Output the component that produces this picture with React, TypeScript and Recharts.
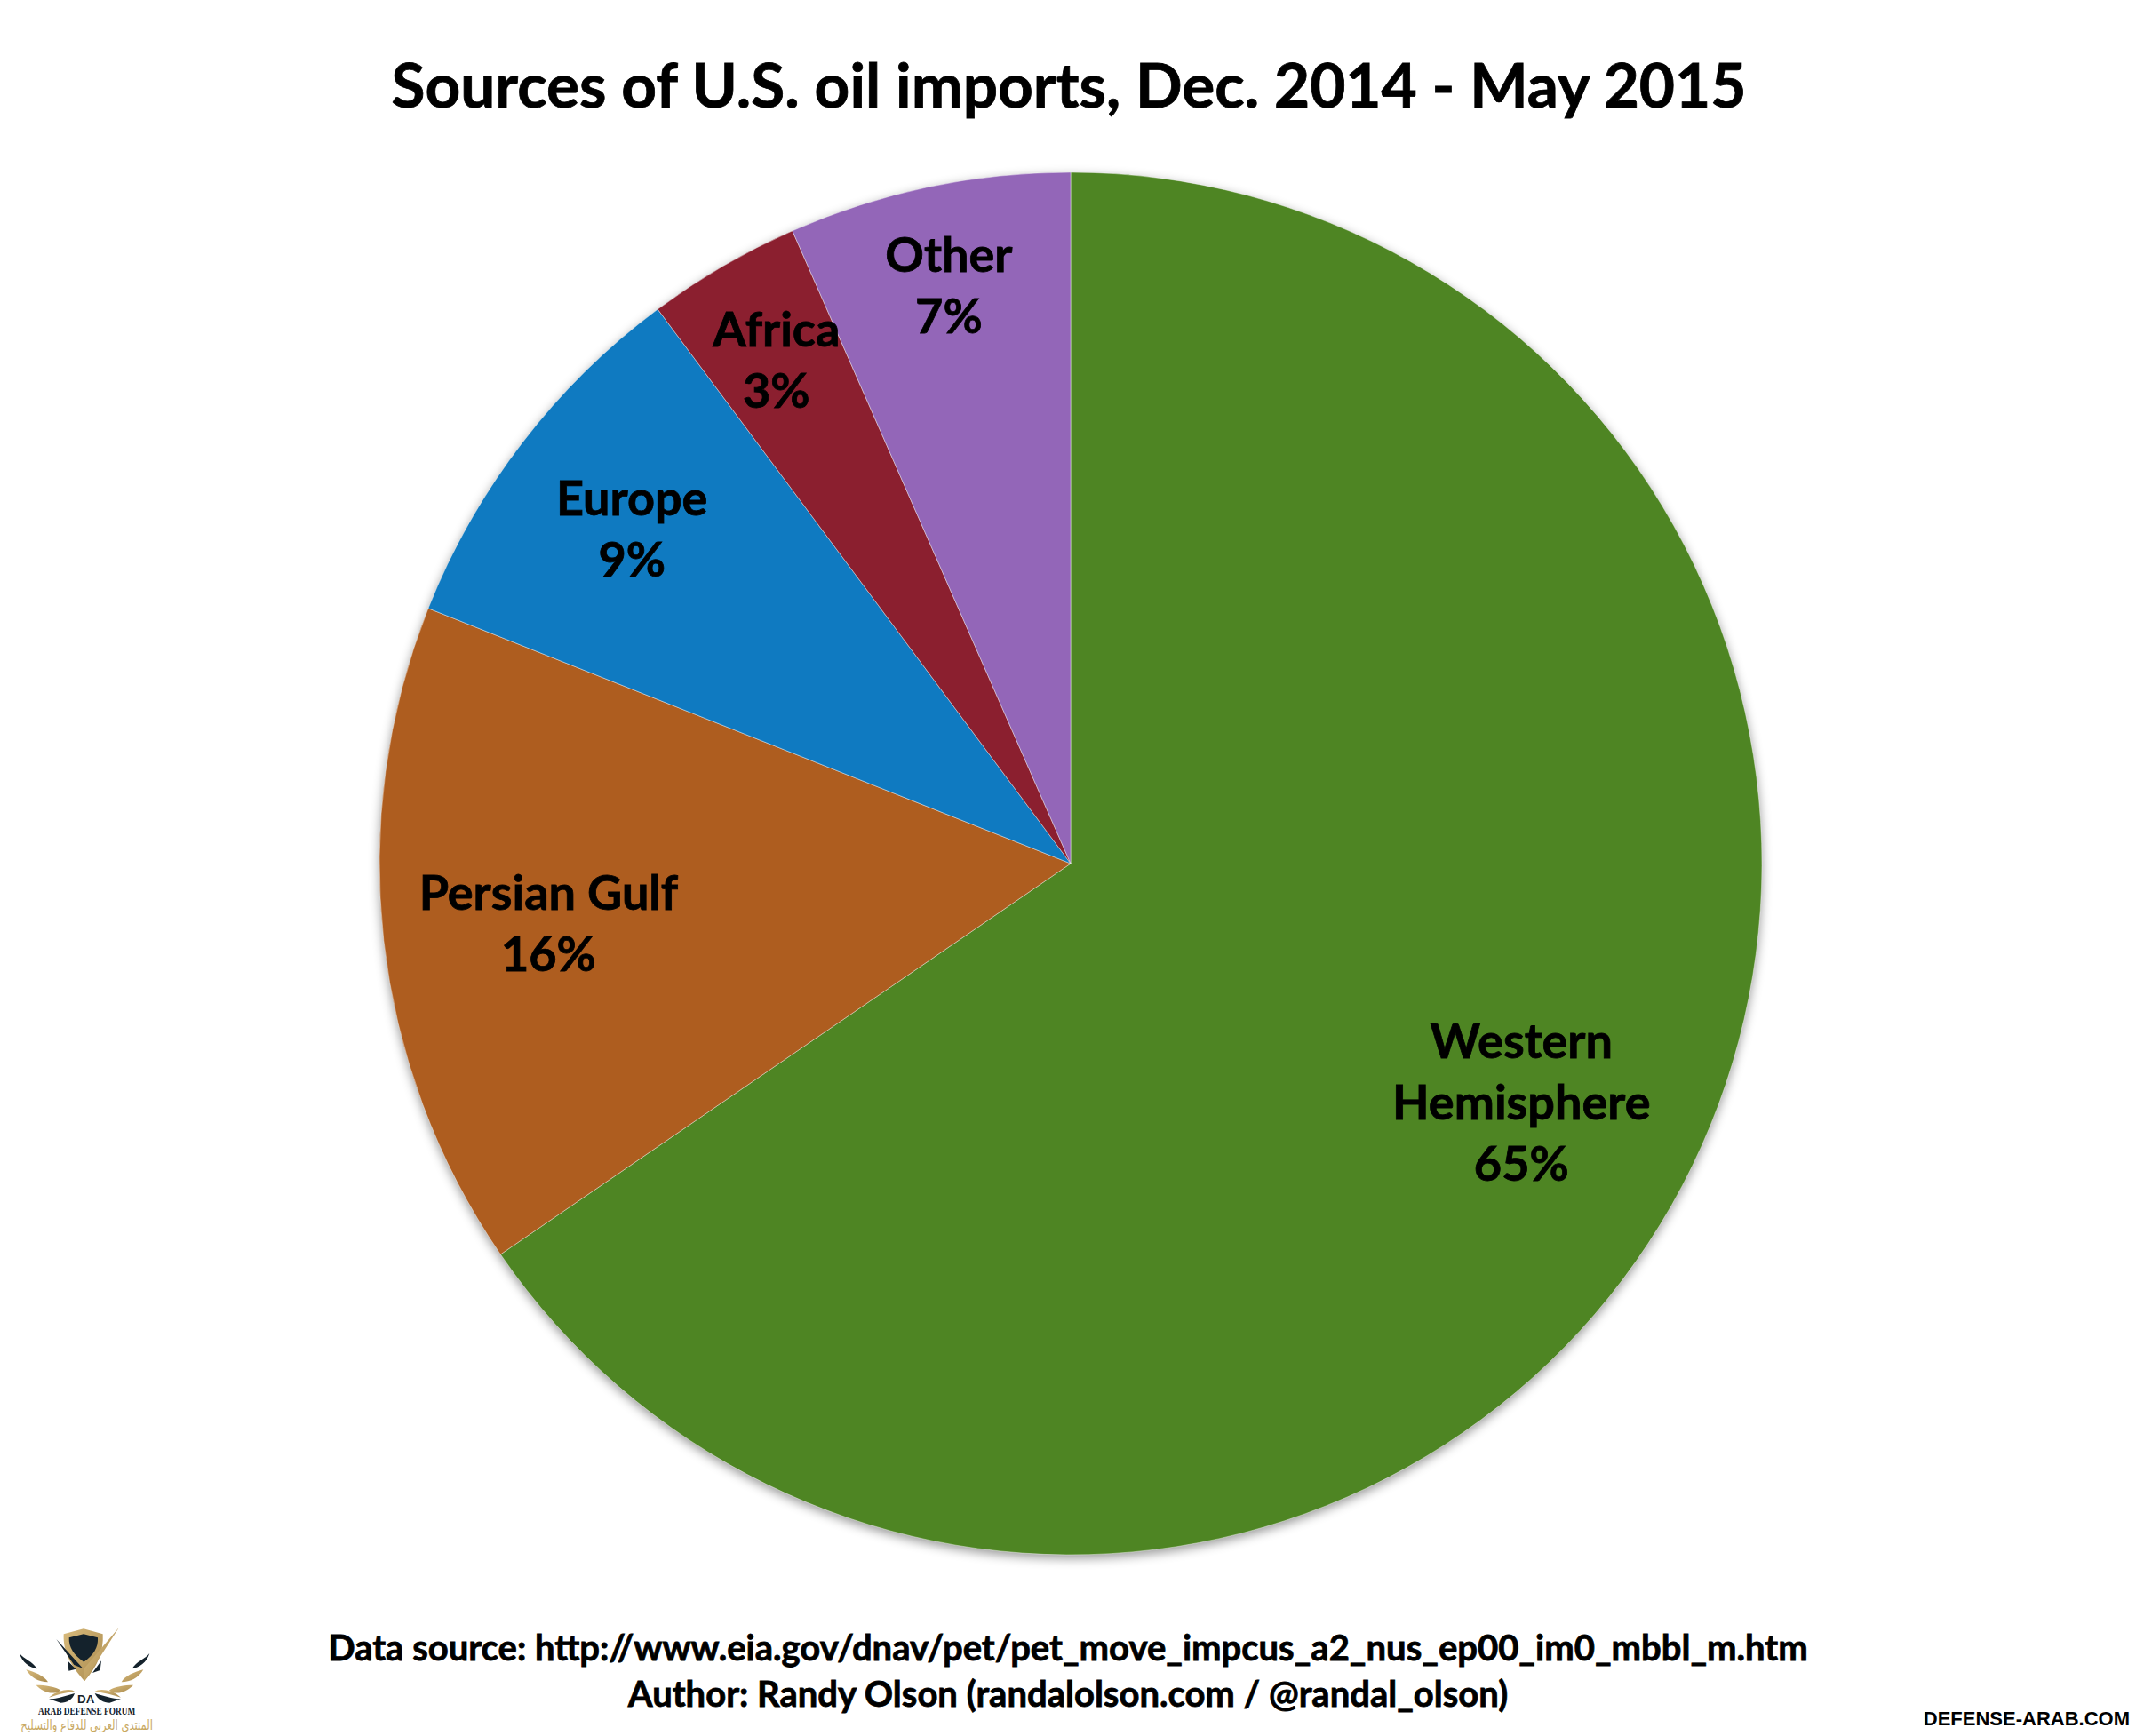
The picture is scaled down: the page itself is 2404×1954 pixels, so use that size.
/**
 * OilImportsPie - Sources of U.S. oil imports, Dec. 2014 - May 2015
 */
import React from 'react';
import { PieChart, Pie, Cell } from 'recharts';

const regions = ['Western Hemisphere', 'Persian Gulf', 'Europe', 'Africa', 'Other'];
const shares = [65.5, 15.6, 8.8, 3.6, 6.6];
const percentLabels = ['65%', '16%', '9%', '3%', '7%'];
const sliceColors = ['#4e8523', '#ae5d1f', '#0f7ac1', '#8b1f2f', '#9366b8'];
// how far along the radius each label sits
const labelRadius = [0.737, 0.76, 0.8, 0.846, 0.857];
const labelLines = [['Western', 'Hemisphere'], ['Persian Gulf'], ['Europe'], ['Africa'], ['Other']];

const tableData = regions.map((name, i) => ({ name, value: shares[i] }));

const FONT = 'Lato, "Open Sans", sans-serif';
const RAD = Math.PI / 180;

function SliceLabel({ cx, cy, midAngle, outerRadius, index }: any) {
  const r = outerRadius * labelRadius[index];
  const x = cx + r * Math.cos(-midAngle * RAD);
  const y = cy + r * Math.sin(-midAngle * RAD);
  const lines = [...labelLines[index], percentLabels[index]];
  const lineHeight = 69;
  const firstY = y - ((lines.length - 1) * lineHeight) / 2 + 21;
  return (
    <text
      x={x}
      textAnchor="middle"
      fontFamily={FONT}
      fontWeight={700}
      fontSize={54}
      fill="#000"
      stroke="#000"
      strokeWidth={0.8}
    >
      {lines.map((line, i) => (
        <tspan key={i} x={x} y={firstY + i * lineHeight}>
          {line}
        </tspan>
      ))}
    </text>
  );
}

function Logo() {
  const navy = '#14222c';
  const gold = 'url(#logoGold)';
  return (
    <svg
      viewBox="0 0 1500 510"
      width={500}
      height={170}
      style={{ position: 'absolute', left: 0, top: 1780 }}
    >
      <defs>
        <linearGradient id="logoGold" x1="0" y1="0" x2="1" y2="1">
          <stop offset="0" stopColor="#d9bb7c" />
          <stop offset="1" stopColor="#a98a4e" />
        </linearGradient>
      </defs>
      <path d="M282 160 L347 178 C350 240 330 285 285 337 C240 285 212 240 215 178 Z" fill={gold} />
      <path d="M282 178 L330 190 C332 225 315 250 283 272 C250 250 232 225 233 190 Z" fill={navy} />
      <path d="M402 155 L285 337 L282 296 Z" fill={gold} />
      <path d="M190 195 L280 294 L250 282 Z M228 268 L256 296 L232 302 Z M342 268 L312 309 L338 300 Z" fill={navy} />
      <path d="M66 243 C80 262 110 270 125 295 C100 290 75 275 66 243 Z" fill={navy} />
      <path d="M505 243 C490 262 460 270 446 295 C470 290 495 275 505 243 Z" fill={navy} />
      <path d="M88 298 C115 305 150 320 162 340 C130 340 105 325 88 298 Z" fill={gold} />
      <path d="M484 298 C455 305 420 320 410 340 C440 340 468 325 484 298 Z" fill={gold} />
      <path d="M122 350 C150 350 190 355 205 368 C180 385 145 375 122 350 Z" fill={gold} />
      <path d="M450 350 C420 350 385 355 368 368 C392 385 425 375 450 350 Z" fill={gold} />
      <path d="M165 392 C190 385 215 375 252 372 C240 360 195 365 165 392 Z" fill={gold} />
      <path d="M320 372 C350 375 385 385 408 392 C380 365 335 360 320 372 Z" fill={gold} />
      <path d="M165 397 C195 397 225 385 252 378 C245 400 225 410 205 410 Z" fill={navy} />
      <path d="M408 397 C380 397 345 385 320 378 C330 400 350 410 370 410 Z" fill={navy} />
      <text x={290} y={410} textAnchor="middle" fontFamily="Liberation Sans" fontWeight={700} fontSize={40} fill={navy}>
        DA
      </text>
      <text x={293} y={449} textAnchor="middle" fontFamily="Liberation Serif" fontWeight={700} fontSize={36} textLength={328} lengthAdjust="spacingAndGlyphs" fill={navy}>
        ARAB DEFENSE FORUM
      </text>
      <text x={293} y={501} textAnchor="middle" direction="rtl" fontFamily="DejaVu Sans" fontSize={46} textLength={446} lengthAdjust="spacingAndGlyphs" fill="#c9a962">
        المنتدى العربي للدفاع والتسليح
      </text>
    </svg>
  );
}

const centered: React.CSSProperties = {
  position: 'absolute',
  left: 0,
  width: 2404,
  textAlign: 'center',
  fontFamily: FONT,
  fontWeight: 700,
  color: '#000',
  whiteSpace: 'nowrap',
  WebkitTextStroke: '0.8px #000',
};

export default function App() {
  return (
    <div style={{ position: 'absolute', left: 0, top: 0, width: 2404, height: 1954, background: '#fff', overflow: 'hidden' }}>
      <PieChart
        width={2404}
        height={1954}
        margin={{ top: 0, right: 0, bottom: 0, left: 0 }}
        style={{ filter: 'drop-shadow(0 4px 6px rgba(0,0,0,0.4))' }}
      >
        <Pie
          data={tableData}
          dataKey="value"
          nameKey="name"
          cx={1205}
          cy={972}
          outerRadius={778}
          startAngle={90}
          endAngle={-270}
          stroke="#ffffff"
          strokeWidth={0.6}
          strokeOpacity={0.7}
          isAnimationActive={false}
          labelLine={false}
          label={SliceLabel}
        >
          {tableData.map((d, i) => (
            <Cell key={d.name} fill={sliceColors[i]} />
          ))}
        </Pie>
      </PieChart>
      <div style={{ ...centered, top: 52, left: 1, fontSize: 69.3, lineHeight: '86px' }}>
        Sources of U.S. oil imports, Dec. 2014 - May 2015
      </div>
      <div style={{ ...centered, top: 1830, fontSize: 40, lineHeight: '48px' }}>
        Data source: http://www.eia.gov/dnav/pet/pet_move_impcus_a2_nus_ep00_im0_mbbl_m.htm
      </div>
      <div style={{ ...centered, top: 1882, fontSize: 40, lineHeight: '48px' }}>
        Author: Randy Olson (randalolson.com / @randal_olson)
      </div>
      <div
        style={{
          position: 'absolute',
          right: 7,
          top: 1922,
          fontFamily: '"Liberation Sans", Arial, sans-serif',
          fontWeight: 700,
          fontSize: 22,
          color: '#000',
        }}
      >
        DEFENSE-ARAB.COM
      </div>
      <Logo />
    </div>
  );
}
